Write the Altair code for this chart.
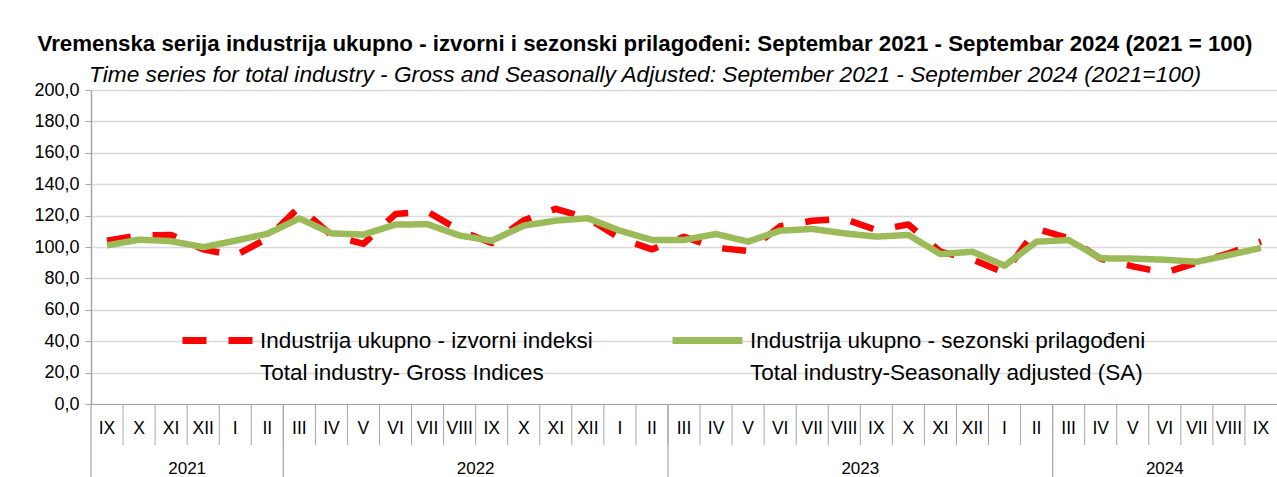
import altair as alt
import pandas as pd

months = ["IX", "X", "XI", "XII", "I", "II",
          "III", "IV", "V", "VI", "VII", "VIII", "IX", "X", "XI", "XII", "I", "II",
          "III", "IV", "V", "VI", "VII", "VIII", "IX", "X", "XI", "XII", "I", "II",
          "III", "IV", "V", "VI", "VII", "VIII", "IX"]
years = ["2021", "2022", "2023", "2024"]
year_spans = [6, 12, 12, 7]

gross = [104, 107.4, 107.6, 98.5, 94.5, 105.5,
         125.5, 107.5, 102, 121, 122.5, 110.5, 102.5, 117, 124.3, 118.3, 105.5, 98.5,
         106.5, 99.5, 97.5, 113.2, 116.7, 117.9, 110.8, 114.3, 97, 92, 83.5, 111.5,
         105.5, 92.5, 87.7, 83.5, 90, 96, 103.5]
sa = [101, 104.7, 103.7, 99.9, 104, 108.4,
      118.2, 108.7, 107.9, 114.3, 114.5, 107.3, 104, 113.6, 116.8, 118.3, 110.4, 104.5,
      104.5, 108.3, 103.4, 110.4, 111.5, 108.7, 106.6, 107.7, 95.5, 97, 88.1, 103.4,
      104.4, 92.8, 92.6, 91.9, 90.6, 94.9, 99.4]

series_names = [
    "Industrija ukupno - izvorni indeksi\nTotal industry- Gross Indices",
    "Industrija ukupno - sezonski prilagođeni\nTotal industry-Seasonally adjusted (SA)",
]
colors = ["#FF0000", "#9BBB59"]

title_text = "Vremenska serija industrija ukupno - izvorni i sezonski prilagođeni: Septembar 2021 - Septembar 2024 (2021 = 100)"
subtitle_text = "Time series for total industry - Gross and Seasonally Adjusted: September 2021 - September 2024 (2021=100)"

n = len(months)
W, H = 1186, 314
FONT = "Liberation Sans"
GREY = "#A6A6A6"

rows = []
for name, vals in zip(series_names, [gross, sa]):
    for i, v in enumerate(vals):
        rows.append({"i": i, "series": name, "value": v})
df = pd.DataFrame(rows)

month_df = pd.DataFrame({"i": list(range(n)), "month": months})
sep_df = pd.DataFrame({"b": list(range(1, n))})
starts = [sum(year_spans[:k]) for k in range(len(years))]
year_df = pd.DataFrame({"year": years, "start": starts, "span": year_spans})

xscale = alt.Scale(domain=[0, n], nice=False, zero=False)

legend = alt.Legend(
    title=None, orient="none", legendX=88, legendY=212, direction="horizontal",
    columns=2, columnPadding=65, labelFontSize=22.5, labelFont=FONT, labelColor="#000000",
    labelLimit=1000, symbolType="stroke", symbolSize=4900, symbolStrokeWidth=7,
    labelOffset=4, labelExpr="split(datum.label, '\\n')", labelBaseline="middle",
)

lines = alt.Chart(df).mark_line(strokeWidth=6.5, strokeCap="butt", strokeJoin="round").transform_calculate(
    xpos="datum.i + 0.5"
).encode(
    x=alt.X("xpos:Q", scale=xscale,
            axis=alt.Axis(title=None, labels=False, ticks=False, grid=False,
                          domainColor=GREY, domainWidth=1)),
    y=alt.Y("value:Q", scale=alt.Scale(domain=[0, 200], nice=False),
            axis=alt.Axis(title=None, values=list(range(0, 201, 20)),
                          labelExpr="replace(format(datum.value, '.1f'), '.', ',')",
                          labelFont=FONT, labelFontSize=18, labelColor="#000000",
                          labelPadding=6, tickSize=6, tickColor=GREY, domainColor=GREY,
                          domainWidth=1.5, gridColor="#D9D9D9", gridWidth=1.3)),
    color=alt.Color("series:N", scale=alt.Scale(domain=series_names, range=colors), legend=legend),
    strokeDash=alt.StrokeDash("series:N", scale=alt.Scale(domain=series_names, range=[[24, 22], [1, 0]]),
                              legend=legend),
)

month_seps = alt.Chart(sep_df).mark_rule(color=GREY, strokeWidth=1).encode(
    x=alt.X("b:Q", scale=xscale), y=alt.value(H), y2=alt.value(H + 41)
)
year_seps = alt.Chart(year_df).mark_rule(color=GREY, strokeWidth=1.2).encode(
    x=alt.X("start:Q", scale=xscale), y=alt.value(H), y2=alt.value(H + 75)
)
month_text = alt.Chart(month_df).mark_text(font=FONT, fontSize=17.5, baseline="middle", color="#000000").transform_calculate(
    xpos="datum.i + 0.5"
).encode(x=alt.X("xpos:Q", scale=xscale), y=alt.value(H + 25), text="month:N")
year_text = alt.Chart(year_df).mark_text(font=FONT, fontSize=17, baseline="middle", color="#000000").transform_calculate(
    xmid="datum.start + datum.span / 2"
).encode(x=alt.X("xmid:Q", scale=xscale), y=alt.value(H + 65), text="year:N")

chart = alt.layer(lines, month_seps, year_seps, month_text, year_text).properties(
    width=W, height=H,
    padding={"left": 91, "top": 90, "right": 0, "bottom": 73},
    autosize=alt.AutoSizeParams(type="none"),
    title=alt.TitleParams(
        text=title_text, subtitle=subtitle_text, anchor="middle", dx=-39,
        font=FONT, fontSize=22.3, fontWeight="bold", color="#000000",
        subtitleFont=FONT, subtitleFontSize=22.7, subtitleFontStyle="italic", subtitleColor="#000000",
        subtitlePadding=9, offset=-6,
    ),
).configure_view(stroke=None).configure(
    background="#FFFFFF",
    style={"guide-label": {"lineHeight": 32}},
)

chart.save("out.html", embed_options={"renderer": "svg", "actions": False})
